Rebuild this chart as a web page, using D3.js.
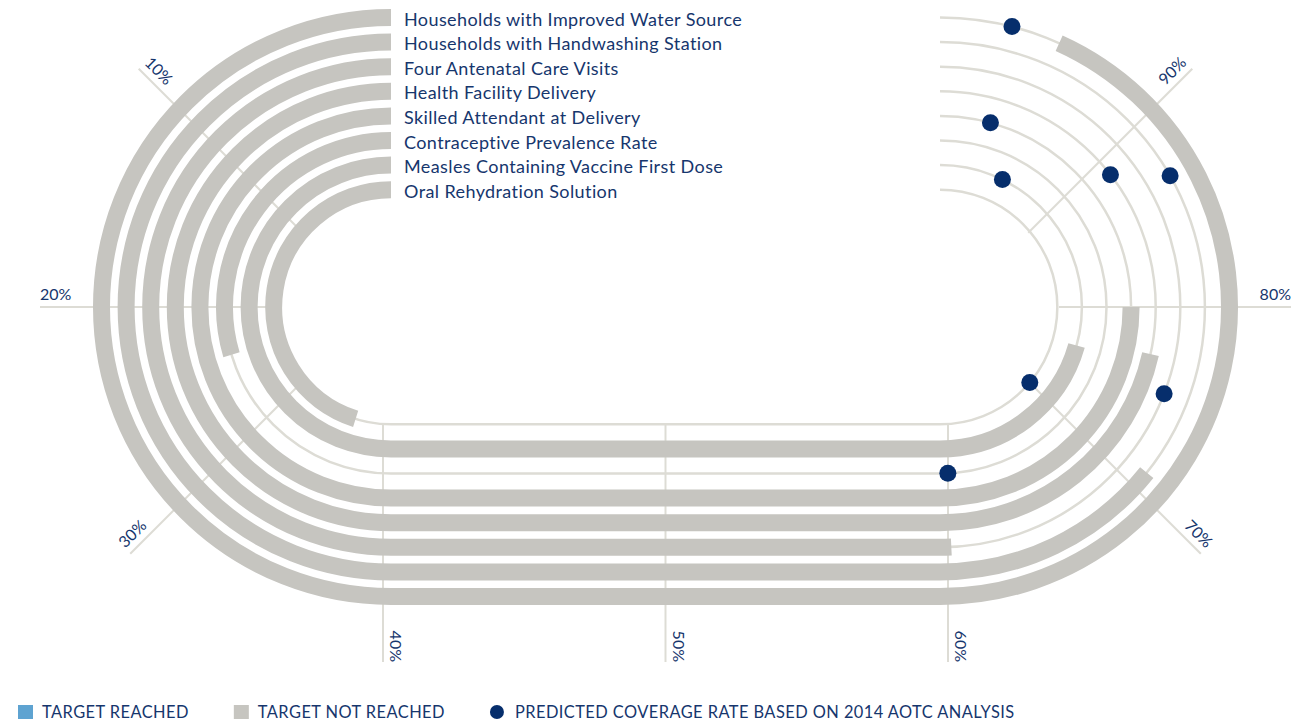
<!DOCTYPE html>
<html lang="en">
<head>
<meta charset="UTF-8">
<title>Coverage racetrack</title>
<style>
  body { margin: 0; background: #fff; }
  svg { display: block; }
  .track-label { font-family: Lato, sans-serif; font-size: 18px; letter-spacing: 0.4px; fill: #16366d; }
  .tick-label { font-family: Lato, sans-serif; font-size: 16px; fill: #16366d; }
  .legend text { font-family: Lato, sans-serif; font-size: 16.4px; letter-spacing: 0.45px; fill: #16366d; }
</style>
<script src="https://cdn.jsdelivr.net/npm/d3@7"></script>
</head>
<body>
<script>
// indicators, outermost track first
var indicators = [
  "Households with Improved Water Source",
  "Households with Handwashing Station",
  "Four Antenatal Care Visits",
  "Health Facility Delivery",
  "Skilled Attendant at Delivery",
  "Contraceptive Prevalence Rate",
  "Measles Containing Vaccine First Dose",
  "Oral Rehydration Solution"
];
// current coverage (%)
var coverage = [94.6, 71.4, 60.6, 77.2, 80, 23.7, 76.5, 36.1];
var targetReached = [false, false, false, false, false, false, false, false];
// predicted coverage, 2014 AOTC analysis (%)
var predicted = [96.8, 86.6, 75.3, 88.4, 96.6, 60.6, 94.2, 71.1];

var ticks = [10, 20, 30, 40, 50, 60, 70, 80, 90];
var legendItems = ["TARGET REACHED", "TARGET NOT REACHED", "PREDICTED COVERAGE RATE BASED ON 2014 AOTC ANALYSIS"];
var legendKinds = ["reached", "notReached", "predicted"];

var w = 1292, h = 721;
var dotCol = "#062e6c", grey = "#c6c5c0", lane = "#dddcd5", blue = "#5ea3d1";

// track geometry: two half circles joined by the bottom straight
var cy = 307, cxL = 391, cxR = 940;
var rScale = d3.scalePoint().domain(indicators).range([289.5, 117.3]);
var angL = d3.scaleLinear().domain([0, 40]).range([0, Math.PI]);
var angR = d3.scaleLinear().domain([60, 100]).range([0, Math.PI]);
var xBottom = d3.scaleLinear().domain([40, 60]).range([cxL, cxR]);
var rInner = rScale(indicators[indicators.length - 1]);

function pt(r, v) {
  var a;
  if (v <= 40) { a = angL(v); return [cxL - r * Math.sin(a), cy - r * Math.cos(a)]; }
  if (v <= 60) return [xBottom(v), cy + r];
  a = angR(v);
  return [cxR + r * Math.sin(a), cy + r * Math.cos(a)];
}

function trackPath(r, v) {
  var p = d3.path();
  p.moveTo(cxL, cy - r);
  p.arc(cxL, cy, r, -Math.PI / 2, -Math.PI / 2 - angL(Math.min(v, 40)), true);
  if (v > 40) p.lineTo(xBottom(Math.min(v, 60)), cy + r);
  if (v > 60) p.arc(cxR, cy, r, Math.PI / 2, Math.PI / 2 - angR(v), true);
  return p.toString();
}

var svg = d3.select("body").append("svg")
  .attr("width", w)
  .attr("height", h);

// grid (percentage spokes)
var gcxL = 377, gcxR = 954, gIn = 105, gOut = 337, yEnd = 662;
var xGrid = d3.scaleLinear().domain([40, 60]).range([383, 948]);

function tickGeom(t) {
  var a;
  if (t < 40 || t > 60) {
    var left = t < 40;
    a = left ? angL(t) : angR(t);
    var cx = left ? gcxL : gcxR, s = left ? -1 : 1;
    // spokes below the centre line run a little longer
    var len = Math.cos(a) * (left ? -1 : 1) > 0.1 ? gOut + 12 : gOut;
    return {
      x1: cx + s * gIn * Math.sin(a), y1: cy + (left ? -1 : 1) * gIn * Math.cos(a),
      x2: cx + s * len * Math.sin(a), y2: cy + (left ? -1 : 1) * len * Math.cos(a),
      rot: 90 - a * 180 / Math.PI,
      anchor: left ? "start" : "end"
    };
  }
  return { x1: xGrid(t), y1: cy + rInner, x2: xGrid(t), y2: yEnd, rot: 90, anchor: "end" };
}

var grid = svg.append("g").attr("class", "grid");
grid.selectAll("line").data(ticks).enter().append("line")
  .attr("x1", d => tickGeom(d).x1).attr("y1", d => tickGeom(d).y1)
  .attr("x2", d => tickGeom(d).x2).attr("y2", d => tickGeom(d).y2)
  .attr("stroke", lane).attr("stroke-width", 2);

grid.selectAll("text").data(ticks).enter().append("text")
  .attr("class", "tick-label")
  .attr("transform", d => { var g = tickGeom(d); return "translate(" + g.x2 + "," + g.y2 + ") rotate(" + g.rot + ")"; })
  .attr("y", -7)
  .attr("text-anchor", d => tickGeom(d).anchor)
  .text(d => d + "%");

// lanes
svg.append("g").selectAll("path").data(indicators).enter().append("path")
  .attr("d", d => trackPath(rScale(d), 100))
  .attr("fill", "none").attr("stroke", lane).attr("stroke-width", 2.5);

// coverage bands
svg.append("g").selectAll("path").data(indicators).enter().append("path")
  .attr("d", (d, i) => trackPath(rScale(d), coverage[i]))
  .attr("fill", "none")
  .attr("stroke", (d, i) => targetReached[i] ? blue : grey)
  .attr("stroke-width", 17)
  .attr("stroke-linecap", "butt");

// predicted dots
svg.append("g").selectAll("circle").data(indicators).enter().append("circle")
  .attr("cx", (d, i) => pt(rScale(d), predicted[i])[0])
  .attr("cy", (d, i) => pt(rScale(d), predicted[i])[1])
  .attr("r", 8.5)
  .attr("fill", dotCol);

// track labels
svg.append("g").selectAll("text").data(indicators).enter().append("text")
  .attr("class", "track-label")
  .attr("x", 404)
  .attr("y", d => cy - rScale(d) + 8)
  .text(d => d);

// legend
var legend = svg.append("g").attr("class", "legend").attr("transform", "translate(18,718)");
var lx = 0;
legendItems.forEach(function (label, i) {
  var g = legend.append("g").attr("transform", "translate(" + lx + ",0)");
  var kind = legendKinds[i];
  if (kind === "predicted") {
    g.append("circle").attr("cx", 7).attr("cy", -6).attr("r", 7).attr("fill", dotCol);
  } else {
    g.append("rect").attr("x", 0).attr("y", -13).attr("width", 15).attr("height", 14)
      .attr("fill", kind === "reached" ? blue : grey);
  }
  var tx = kind === "predicted" ? 25 : 24;
  var t = g.append("text").attr("x", tx).text(label);
  lx += tx + t.node().getComputedTextLength() + 45;
});
</script>
</body>
</html>
